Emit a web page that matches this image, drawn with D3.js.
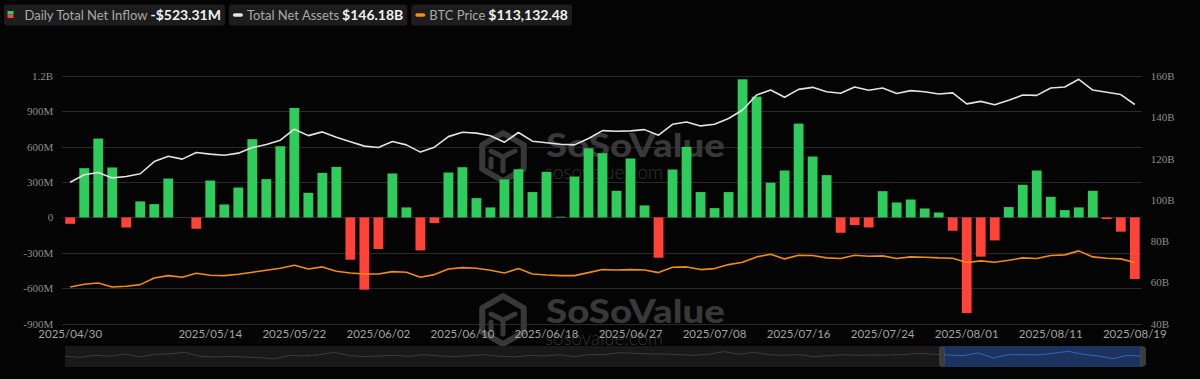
<!DOCTYPE html>
<html>
<head>
<meta charset="utf-8">
<script src="https://cdn.jsdelivr.net/npm/d3@7"></script>
<style>
  html, body { margin: 0; padding: 0; background: #040404; }
  svg { display: block; }
</style>
</head>
<body>
<div id="chart"></div>
<script>
// ETF daily flows: bars = daily net inflow (M USD), white = total net assets (B USD), orange = BTC price

const dates = [
  "2025/04/30", "2025/05/01", "2025/05/02", "2025/05/05", "2025/05/06", "2025/05/07", "2025/05/08",
  "2025/05/09", "2025/05/12", "2025/05/13", "2025/05/14", "2025/05/15", "2025/05/16", "2025/05/19",
  "2025/05/20", "2025/05/21", "2025/05/22", "2025/05/23", "2025/05/27", "2025/05/28", "2025/05/29",
  "2025/05/30", "2025/06/02", "2025/06/03", "2025/06/04", "2025/06/05", "2025/06/06", "2025/06/09",
  "2025/06/10", "2025/06/11", "2025/06/12", "2025/06/13", "2025/06/16", "2025/06/17", "2025/06/18",
  "2025/06/20", "2025/06/23", "2025/06/24", "2025/06/25", "2025/06/26", "2025/06/27", "2025/06/30",
  "2025/07/01", "2025/07/02", "2025/07/03", "2025/07/07", "2025/07/08", "2025/07/09", "2025/07/10",
  "2025/07/11", "2025/07/14", "2025/07/15", "2025/07/16", "2025/07/17", "2025/07/18", "2025/07/21",
  "2025/07/22", "2025/07/23", "2025/07/24", "2025/07/25", "2025/07/28", "2025/07/29", "2025/07/30",
  "2025/07/31", "2025/08/01", "2025/08/04", "2025/08/05", "2025/08/06", "2025/08/07", "2025/08/08",
  "2025/08/11", "2025/08/12", "2025/08/13", "2025/08/14", "2025/08/15", "2025/08/18", "2025/08/19"
];

// daily total net inflow, millions
const netInflow = [
  -54, 418, 669, 424, -85, 136, 113, 330, 1, -96, 313, 110, 254, 664,
  325, 604, 929, 209, 378, 429, -359, -613, -268, 373, 85, -280, -48, 381,
  426, 164, 85, 322, 409, 215, 387, 6, 347, 587, 545, 226, 500, 102,
  -342, 407, 599, 215, 79, 215, 1172, 1025, 294, 398, 796, 517, 359, -130,
  -65, -85, 223, 127, 152, 76, 42, -113, -812, -333, -195, 88, 277, 398,
  175, 62, 85, 226, -14, -121, -523
];

// total net assets, billions
const totalAssets = [
  108.5, 112.1, 113.2, 110.6, 111.3, 112.6, 118.5, 121.1, 119.7, 122.9, 122.1, 121.6, 122.6, 125.3,
  126.8, 128.9, 134.2, 131.1, 132.9, 130.3, 128.1, 126.0, 125.3, 128.2, 126.6, 123.1, 125.5, 130.6,
  132.7, 132.3, 131.0, 127.9, 132.6, 128.4, 127.6, 126.9, 126.6, 129.7, 133.5, 133.2, 133.4, 134.0,
  131.3, 136.6, 137.7, 135.8, 136.6, 139.4, 143.5, 150.8, 153.2, 149.7, 153.5, 154.5, 152.4, 151.6,
  154.7, 153.1, 154.2, 151.5, 152.9, 152.4, 151.3, 151.8, 146.5, 147.7, 146.1, 148.2, 150.8, 150.6,
  154.2, 154.7, 158.4, 153.2, 152.1, 151.0, 146.18
];

// BTC price, USD
const btcPrice = [
  94060, 96150, 97190, 94060, 94580, 95890, 101110, 102940, 101640, 104770, 103200, 102940, 103990, 105550,
  107120, 108690, 111040, 108170, 109740, 106340, 105030, 104250, 104250, 106080, 105550, 101640, 103730, 108170,
  109210, 108690, 107120, 105030, 108430, 104250, 103460, 102940, 102940, 105290, 107650, 107380, 107650, 107380,
  105290, 109470, 109740, 107650, 108430, 111560, 113390, 117570, 119660, 116010, 118880, 118620, 116790, 116270,
  118880, 118100, 118360, 116270, 117570, 117310, 116790, 116530, 113130, 114440, 113390, 114960, 116790, 116270,
  118620, 119140, 122280, 117570, 116530, 116010, 113132.48
];

const xTickLabels = [
  "2025/04/30", "2025/05/14", "2025/05/22", "2025/06/02", "2025/06/10", "2025/06/18", "2025/06/27",
  "2025/07/08", "2025/07/16", "2025/07/24", "2025/08/01", "2025/08/11", "2025/08/19"
];
const leftTicks = [1200, 900, 600, 300, 0, -300, -600, -900];
const rightTicks = [160, 140, 120, 100, 80, 60, 40];

// overview strip of the data-zoom slider (relative level)
const sliderShadow = [
  15, 12, 18, 15, 22, 13, 21, 22, 27, 15, 13, 15, 13, 11, 7, 18, 16, 20, 27, 17,
  14, 16, 18, 15, 20, 16, 14, 17, 20, 15, 13, 18, 16, 20, 14, 20, 20, 26, 24, 22,
  22, 20, 18, 21, 29, 21, 27, 20, 18, 20, 14, 17, 20, 18, 19, 19, 20, 24, 21, 19,
  17, 25, 10, 20, 20, 19, 24, 30, 21, 16, 8, 18, 15
];

const legendItems = [
  { label: "Daily Total Net Inflow", value: "-$523.31M", icon: "bars" },
  { label: "Total Net Assets", value: "$146.18B", icon: "#e6e6e6" },
  { label: "BTC Price", value: "$113,132.48", icon: "#f39112" }
];

const width = 1200;
const height = 379;
const plot = { left: 63.2, right: 1141.8, top: 76, bottom: 323.5 };

const green = "#2ecc5a";
const red = "#ff4338";
const gridColor = "#2a2a2a";

const svg = d3
  .select("#chart")
  .append("svg")
  .attr("width", width)
  .attr("height", height)
  .attr("viewBox", [0, 0, width, height]);

svg.append("rect").attr("width", width).attr("height", height).attr("fill", "#040404");

const x = d3
  .scaleBand()
  .domain(dates)
  .range([plot.left, plot.right])
  .paddingInner(0.3)
  .paddingOuter(0.15);
const cx = (d) => x(d) + x.bandwidth() / 2;

const yLeft = d3.scaleLinear().domain([-900, 1200]).range([plot.bottom, plot.top]);
const yRight = d3.scaleLinear().domain([40, 160]).range([plot.bottom, plot.top]);
// BTC price uses its own hidden axis
const yBtc = d3.scaleLinear().domain([65500, 259000]).range([plot.bottom, plot.top]);

// grid
svg
  .append("g")
  .selectAll("line")
  .data(leftTicks)
  .join("line")
  .attr("x1", plot.left - 1)
  .attr("x2", plot.right)
  .attr("y1", (d) => Math.round(yLeft(d)) + 0.5)
  .attr("y2", (d) => Math.round(yLeft(d)) + 0.5)
  .attr("stroke", gridColor)
  .attr("stroke-width", 1);

// watermarks
function watermark(cxLogo, cyLogo, baseline) {
  const g = svg.append("g").attr("fill", "none").attr("stroke", "#383838");
  const r = 24;
  const hex = d3.range(6).map((i) => {
    const a = Math.PI / 3 * i - Math.PI / 2;
    return [cxLogo + r * Math.cos(a), cyLogo + r * Math.sin(a)];
  });
  g.append("path")
    .attr("d", "M" + hex.join("L") + "Z")
    .attr("stroke-width", 6)
    .attr("stroke-linejoin", "round");
  // inner cube strokes
  g.append("path")
    .attr("d",
      "M" + (cxLogo - 12) + "," + (cyLogo - 6) +
      "L" + cxLogo + "," + (cyLogo) +
      "L" + (cxLogo + 12) + "," + (cyLogo - 6) +
      "M" + cxLogo + "," + cyLogo +
      "L" + cxLogo + "," + (cyLogo + 14) +
      "M" + (cxLogo - 12) + "," + (cyLogo + 2) +
      "L" + (cxLogo - 12) + "," + (cyLogo + 10))
    .attr("stroke-width", 5)
    .attr("stroke-linecap", "round");

  svg.append("text")
    .attr("x", 546)
    .attr("y", baseline)
    .attr("textLength", 179)
    .attr("lengthAdjust", "spacingAndGlyphs")
    .attr("font-family", "Lato, sans-serif")
    .attr("font-weight", 900)
    .attr("font-size", 32)
    .attr("fill", "#383838")
    .text("SoSoValue");
  svg.append("text")
    .attr("x", 545)
    .attr("y", baseline + 22)
    .attr("textLength", 118)
    .attr("lengthAdjust", "spacingAndGlyphs")
    .attr("font-family", "Lato, sans-serif")
    .attr("font-weight", 300)
    .attr("font-size", 20)
    .attr("fill", "#333")
    .text("sosovalue.com");
}
watermark(503, 157, 157);
watermark(503, 320, 323);

// bars
svg
  .append("g")
  .selectAll("rect")
  .data(dates)
  .join("rect")
  .attr("x", (d) => x(d))
  .attr("width", x.bandwidth())
  .attr("y", (d, i) => yLeft(Math.max(0, netInflow[i])))
  .attr("height", (d, i) => Math.abs(yLeft(netInflow[i]) - yLeft(0)))
  .attr("fill", (d, i) => (netInflow[i] >= 0 ? green : red));

// lines
const assetLine = d3.line().x((d, i) => cx(dates[i])).y((d) => yRight(d));
const btcLine = d3.line().x((d, i) => cx(dates[i])).y((d) => yBtc(d));

svg.append("path")
  .datum(totalAssets)
  .attr("d", assetLine)
  .attr("fill", "none")
  .attr("stroke", "#e2e2e2")
  .attr("stroke-width", 1.6)
  .attr("stroke-linejoin", "round");

svg.append("path")
  .datum(btcPrice)
  .attr("d", btcLine)
  .attr("fill", "none")
  .attr("stroke", "#f08d0f")
  .attr("stroke-width", 1.6)
  .attr("stroke-linejoin", "round");

// axes
const fmtLeft = (v) => (v === 0 ? "0" : Math.abs(v) >= 1000 ? v / 1000 + "B" : v + "M");

const leftAxis = svg
  .append("g")
  .attr("transform", "translate(" + (plot.left - 7) + ",0)")
  .call(d3.axisLeft(yLeft).tickValues(leftTicks).tickFormat(fmtLeft).tickSize(0));

const rightAxis = svg
  .append("g")
  .attr("transform", "translate(" + (plot.right + 6) + ",0)")
  .call(d3.axisRight(yRight).tickValues(rightTicks).tickFormat((v) => v + "B").tickSize(0));

[leftAxis, rightAxis].forEach((ax) => {
  ax.select(".domain").remove();
  ax.selectAll("text")
    .attr("font-family", "'Liberation Serif', serif")
    .attr("font-size", 11)
    .attr("fill", "#8e8e8e");
});

const xAxis = svg
  .append("g")
  .attr("transform", "translate(0," + (plot.bottom + 3) + ")")
  .call(d3.axisBottom(x).tickValues(xTickLabels).tickSize(0));
xAxis.select(".domain").remove();
xAxis.selectAll("text")
  .attr("font-family", "Lato, sans-serif")
  .attr("font-size", 11.5)
  .attr("fill", "#a3a3a3");

// legend
let lx = 4;
legendItems.forEach((item) => {
  const g = svg.append("g");
  const box = g.append("rect")
    .attr("x", lx)
    .attr("y", 4.5)
    .attr("height", 21)
    .attr("rx", 3)
    .attr("fill", "#1d1d1d");

  if (item.icon === "bars") {
    g.append("rect").attr("x", lx + 3.5).attr("y", 11).attr("width", 6).attr("height", 3.5).attr("fill", green);
    g.append("rect").attr("x", lx + 3.5).attr("y", 14.5).attr("width", 6).attr("height", 3.5).attr("fill", red);
  } else {
    g.append("rect").attr("x", lx + 4).attr("y", 13.2).attr("width", 10).attr("height", 3.6).attr("rx", 1.8).attr("fill", item.icon);
  }
  const tx = lx + (item.icon === "bars" ? 20.5 : 18);
  const t1 = g.append("text")
    .attr("x", tx)
    .attr("y", 19.8)
    .attr("font-family", "Lato, sans-serif")
    .attr("font-size", 13)
    .attr("fill", "#a9a9a9")
    .text(item.label);
  const w1 = t1.node().getComputedTextLength();
  const t2 = g.append("text")
    .attr("x", tx + w1 + 3)
    .attr("y", 19.8)
    .attr("font-family", "Lato, sans-serif")
    .attr("font-weight", 700)
    .attr("font-size", 14)
    .attr("fill", "#f2f2f2")
    .text(item.value);
  const w2 = t2.node().getComputedTextLength();
  const bw = tx + w1 + 3 + w2 + 4 - lx;
  box.attr("width", bw);
  lx += bw + 4;
});

// data-zoom slider; the selected window covers the last part of the overview
const slider = { left: 65, right: 1143, top: 346, bottom: 367, selLeft: 942 };
const sx = d3.scaleLinear().domain([0, sliderShadow.length - 1]).range([slider.left, slider.right]);
const sy = d3.scaleLinear().domain([0, 30]).range([361.3, 351.3]);
const sh = slider.bottom - slider.top;

svg.append("rect")
  .attr("x", slider.left)
  .attr("y", slider.top)
  .attr("width", slider.right - slider.left)
  .attr("height", sh)
  .attr("fill", "#191919");

svg.append("rect")
  .attr("x", slider.selLeft)
  .attr("y", slider.top)
  .attr("width", slider.right - slider.selLeft)
  .attr("height", sh)
  .attr("fill", "#1c335f");

const defs = svg.append("defs");
defs.append("clipPath").attr("id", "clipGrey").append("rect")
  .attr("x", slider.left).attr("y", slider.top).attr("width", slider.selLeft - slider.left).attr("height", sh);
defs.append("clipPath").attr("id", "clipBlue").append("rect")
  .attr("x", slider.selLeft).attr("y", slider.top).attr("width", slider.right - slider.selLeft).attr("height", sh);

const shadowLine = d3.line().x((d, i) => sx(i)).y((d) => sy(d));
svg.append("path").datum(sliderShadow).attr("d", shadowLine)
  .attr("clip-path", "url(#clipGrey)")
  .attr("fill", "none").attr("stroke", "#3d3d3d").attr("stroke-width", 1);
svg.append("path").datum(sliderShadow).attr("d", shadowLine)
  .attr("clip-path", "url(#clipBlue)")
  .attr("fill", "none").attr("stroke", "#3566b8").attr("stroke-width", 1);

[slider.selLeft, slider.right].forEach((hx) => {
  svg.append("rect")
    .attr("x", hx - 2.5)
    .attr("y", slider.top + 1)
    .attr("width", 5)
    .attr("height", sh - 2)
    .attr("rx", 2)
    .attr("fill", "#3c3c3c")
    .attr("stroke", "#555")
    .attr("stroke-width", 0.5);
});
</script>
</body>
</html>
